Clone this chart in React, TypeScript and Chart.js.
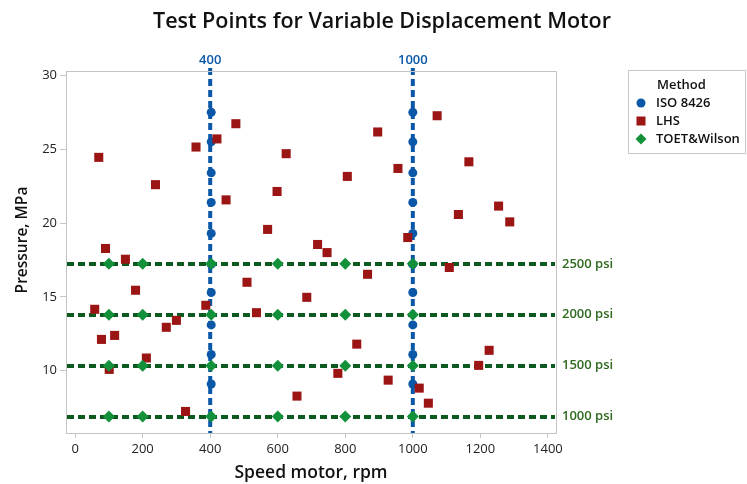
import React, { useEffect, useRef } from "react";
import { Chart, registerables } from "chart.js";

Chart.register(...registerables);

// ---- data ----
const isoSpeeds = [403, 1000];
const isoPressures = [9.1, 11.1, 13.1, 15.3, 17.2, 19.3, 21.4, 23.4, 25.5, 27.5];

const lhsSpeed = [70, 90, 149, 238, 358, 420, 476, 447, 1072, 896, 625, 956, 806, 598, 570, 985, 718, 746, 1166, 1135, 1254, 1287, 179, 58, 387, 78, 117, 270, 300, 211, 101, 327, 509, 537, 866, 686, 834, 778, 927, 1019, 657, 1046, 1108, 1226, 1195];
const lhsPressure = [24.45, 18.28, 17.55, 22.6, 25.15, 25.7, 26.73, 21.57, 27.27, 26.17, 24.7, 23.7, 23.16, 22.14, 19.57, 19.02, 18.55, 18.0, 24.15, 20.58, 21.15, 20.08, 15.45, 14.16, 14.43, 12.12, 12.39, 12.94, 13.41, 10.86, 10.09, 7.24, 15.99, 13.93, 16.53, 14.97, 11.8, 9.82, 9.36, 8.82, 8.28, 7.8, 16.99, 11.38, 10.36];

const toetSpeeds = [100, 200, 403, 600, 800, 1000];
const psiPressures = [6.89, 10.34, 13.79, 17.24];
const psiLabels = ["1000 psi", "1500 psi", "2000 psi", "2500 psi"];

const speedLines = [400, 1000];
const speedLineLabels = ["400", "1000"];

const xTicks = [0, 200, 400, 600, 800, 1000, 1200, 1400];
const yTicks = [10, 15, 20, 25, 30];

const legendTitle = "Method";
const seriesNames = ["ISO 8426", "LHS", "TOET&Wilson"];
const chartTitle = "Test Points for Variable Displacement Motor";
const xTitle = "Speed motor, rpm";
const yTitle = "Pressure, MPa";

// ---- styles ----
const BLUE = "#0b57a8";
const RED = "#9c1515";
const GREEN = "#13913a";
const GREEN_LINE = "#0c5a1f";
const GREEN_TEXT = "#2e6a1f";
const FONT = '"Open Sans", "Noto Sans", sans-serif';
const AXIS_GRAY = "#c4c4c4";

const isoData = isoSpeeds.flatMap((s) => isoPressures.map((p) => ({ x: s, y: p })));
const lhsData = lhsSpeed.map((s, i) => ({ x: s, y: lhsPressure[i] }));
const toetData = psiPressures.flatMap((p) => toetSpeeds.map((s) => ({ x: s, y: p })));

const overlay = {
  id: "overlay",
  beforeDatasetsDraw(chart: any) {
    const { ctx, chartArea: a, scales } = chart;
    const x = scales.x;
    const y = scales.y;
    ctx.save();
    ctx.lineWidth = 4;
    ctx.setLineDash([7, 4]);
    ctx.strokeStyle = GREEN_LINE;
    psiPressures.forEach((p) => {
      const py = Math.round(y.getPixelForValue(p));
      ctx.beginPath();
      ctx.moveTo(a.left + 1, py);
      ctx.lineTo(a.right - 1, py);
      ctx.stroke();
    });
    ctx.strokeStyle = BLUE;
    speedLines.forEach((s) => {
      const px = x.getPixelForValue(s);
      ctx.beginPath();
      ctx.moveTo(px, a.top - 3);
      ctx.lineTo(px, a.bottom);
      ctx.stroke();
    });
    ctx.restore();
  },
  afterDraw(chart: any) {
    const { ctx, chartArea: a, scales } = chart;
    const x = scales.x;
    const y = scales.y;
    ctx.save();
    // frame top/right
    ctx.strokeStyle = AXIS_GRAY;
    ctx.lineWidth = 1;
    ctx.beginPath();
    ctx.moveTo(a.left, a.top + 0.5);
    ctx.lineTo(a.right + 0.5, a.top + 0.5);
    ctx.lineTo(a.right + 0.5, a.bottom);
    ctx.stroke();

    // title
    ctx.fillStyle = "#111";
    ctx.font = `600 21.5px ${FONT}`;
    ctx.textAlign = "center";
    ctx.textBaseline = "middle";
    ctx.fillText(chartTitle, 382, 22);

    // y axis title
    ctx.save();
    ctx.translate(23, 240);
    ctx.rotate(-Math.PI / 2);
    ctx.font = `600 15.5px ${FONT}`;
    ctx.fillText(yTitle, 0, 0);
    ctx.restore();

    // speed line labels
    ctx.fillStyle = BLUE;
    ctx.font = `600 13px ${FONT}`;
    speedLines.forEach((s, i) => {
      ctx.fillText(speedLineLabels[i], x.getPixelForValue(s), 60);
    });

    // psi labels
    ctx.fillStyle = GREEN_TEXT;
    ctx.textAlign = "left";
    psiPressures.forEach((p, i) => {
      ctx.fillText(psiLabels[i], a.right + 6, y.getPixelForValue(p));
    });

    // legend
    const lx = 628, ly = 70, lw = 117, lh = 83;
    ctx.strokeStyle = "#c8c8c8";
    ctx.lineWidth = 1;
    ctx.strokeRect(lx + 0.5, ly + 0.5, lw, lh);
    ctx.fillStyle = "#111";
    ctx.font = `600 13px ${FONT}`;
    ctx.fillText(legendTitle, 657, 85);
    const rows = [103, 121, 139];
    const mx = 641;
    ctx.fillStyle = BLUE;
    ctx.beginPath();
    ctx.arc(mx, rows[0], 4.5, 0, Math.PI * 2);
    ctx.fill();
    ctx.fillStyle = RED;
    ctx.fillRect(mx - 4.5, rows[1] - 4.5, 9, 9);
    ctx.fillStyle = GREEN;
    ctx.beginPath();
    ctx.moveTo(mx, rows[2] - 5.5);
    ctx.lineTo(mx + 5.5, rows[2]);
    ctx.lineTo(mx, rows[2] + 5.5);
    ctx.lineTo(mx - 5.5, rows[2]);
    ctx.closePath();
    ctx.fill();
    ctx.fillStyle = "#111";
    seriesNames.forEach((n, i) => ctx.fillText(n, 656, rows[i]));
    ctx.restore();
  },
};

export default function App() {
  const ref = useRef<HTMLCanvasElement | null>(null);
  useEffect(() => {
    if (!ref.current) return;
    const chart = new Chart(ref.current, {
      type: "scatter",
      data: {
        datasets: [
          {
            label: seriesNames[2],
            data: toetData,
            pointStyle: "rectRot",
            pointRadius: 6,
            pointHoverRadius: 6,
            backgroundColor: GREEN,
            borderColor: GREEN,
            borderWidth: 0,
          },
          {
            label: seriesNames[1],
            data: lhsData,
            pointStyle: "rect",
            pointRadius: 6.4,
            pointHoverRadius: 6.4,
            backgroundColor: RED,
            borderColor: RED,
            borderWidth: 0,
          },
          {
            label: seriesNames[0],
            data: isoData,
            pointStyle: "circle",
            pointRadius: 4.5,
            pointHoverRadius: 4.5,
            backgroundColor: BLUE,
            borderColor: BLUE,
            borderWidth: 0,
          },
        ],
      },
      options: {
        animation: false,
        responsive: false,
        events: [],
        layout: { padding: { left: 0, right: 191, top: 71, bottom: 0 } },
        plugins: {
          legend: { display: false },
          title: { display: false },
          tooltip: { enabled: false },
        },
        scales: {
          x: {
            type: "linear",
            min: -27,
            max: 1424,
            afterFit: (s: any) => {
              s.height = 51;
            },
            afterBuildTicks: (s: any) => {
              s.ticks = xTicks.map((v) => ({ value: v }));
            },
            ticks: {
              padding: 3,
              color: "#222",
              font: { family: FONT, size: 13 },
              callback: (v: any) => String(v),
            },
            grid: {
              display: true,
              drawOnChartArea: false,
              drawTicks: true,
              tickLength: 5,
              color: AXIS_GRAY,
            },
            border: { display: true, color: AXIS_GRAY },
            title: {
              display: true,
              text: xTitle,
              color: "#111",
              font: { family: FONT, size: 17.5, weight: "600" },
              padding: { top: 0, bottom: 0 },
            },
          },
          y: {
            type: "linear",
            min: 5.78,
            max: 30.3,
            afterFit: (s: any) => {
              s.width = 66;
            },
            afterBuildTicks: (s: any) => {
              s.ticks = yTicks.map((v) => ({ value: v }));
            },
            ticks: {
              padding: 3,
              color: "#222",
              font: { family: FONT, size: 13 },
              callback: (v: any) => String(v),
            },
            grid: {
              display: true,
              drawOnChartArea: false,
              drawTicks: true,
              tickLength: 6,
              color: AXIS_GRAY,
            },
            border: { display: true, color: AXIS_GRAY },
            title: { display: false, text: yTitle },
          },
        },
      },
      plugins: [overlay],
    });
    return () => chart.destroy();
  }, []);
  return (
    <div style={{ position: "absolute", left: 0, top: 0, width: 747, height: 484, background: "#fff" }}>
      <canvas ref={ref} width={747} height={484} />
    </div>
  );
}
